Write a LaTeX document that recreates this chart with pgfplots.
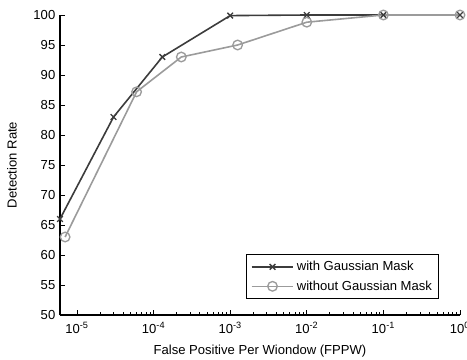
\documentclass[border=0pt]{standalone}
\usepackage{pgfplots}
\pgfplotsset{compat=1.18}
\usepackage{fontspec}
\setmainfont{Liberation Sans}
\definecolor{cwith}{RGB}{60,60,60}
\definecolor{cwithout}{RGB}{155,155,155}
\begin{document}
\begin{tikzpicture}
\begin{axis}[
  at={(0,0)}, anchor=south west,
  scale only axis, width=300pt, height=225pt,
  xmode=log, xmin=6e-6, xmax=1,
  ymin=50, ymax=100,
  ytick={50,55,...,100},
  xtick={1e-5,1e-4,1e-3,1e-2,1e-1,1},
  xticklabels={{10\textsuperscript{-5}},{10\textsuperscript{-4}},{10\textsuperscript{-3}},{10\textsuperscript{-2}},{10\textsuperscript{-1}},{10\textsuperscript{0}}},
  axis x line=bottom, axis y line=left,
  axis line style={-, line width=0.8pt},
  tick style={black, line width=0.6pt},
  major tick length=3.5pt, minor tick length=2pt,
  tick align=inside,
  /pgf/number format/assume math mode=true,
  tick label style={font=\fontsize{9.8}{11}\selectfont},
  label style={font=\fontsize{9.8}{11}\selectfont},
  xticklabel style={yshift=-2pt},
  xlabel={False Positive Per Wiondow (FPPW)},
  ylabel={Detection Rate},
  xlabel style={at={(axis description cs:0.5,-0.085)}, anchor=north},
  ylabel style={at={(axis description cs:-0.12,0.5)}, anchor=center},
  clip=false,
  legend style={at={(axis description cs:0.9475,0.053)}, anchor=south east,
    font=\fontsize{9.8}{11}\selectfont, draw=black, line width=0.6pt,
    inner xsep=3pt, inner ysep=3pt, row sep=2pt, cells={anchor=west}},
  legend image code/.code={
    \draw[mark repeat=2,mark phase=2] plot coordinates {(0cm,0cm) (0.55cm,0cm) (1.1cm,0cm)};
  },
]
\addplot[color=cwith, line width=1.2pt, mark=x, mark size=3pt, mark options={line width=1pt}]
  coordinates {(6e-6,66) (3e-5,83) (1.3e-4,93) (1e-3,99.9) (1e-2,100) (1e-1,100) (1,100)};
\addlegendentry{with Gaussian Mask}
\addplot[color=cwithout, line width=1.2pt, mark=o, mark size=3.6pt, mark options={line width=1pt}]
  coordinates {(7e-6,63) (6e-5,87.2) (2.3e-4,93) (1.25e-3,95) (1e-2,98.8) (1e-1,100) (1,100)};
\addlegendentry{without Gaussian Mask}
\end{axis}
\pgfresetboundingbox
\useasboundingbox (-45pt,-33.75pt) rectangle (305.25pt,236.25pt);
\end{tikzpicture}
\end{document}
